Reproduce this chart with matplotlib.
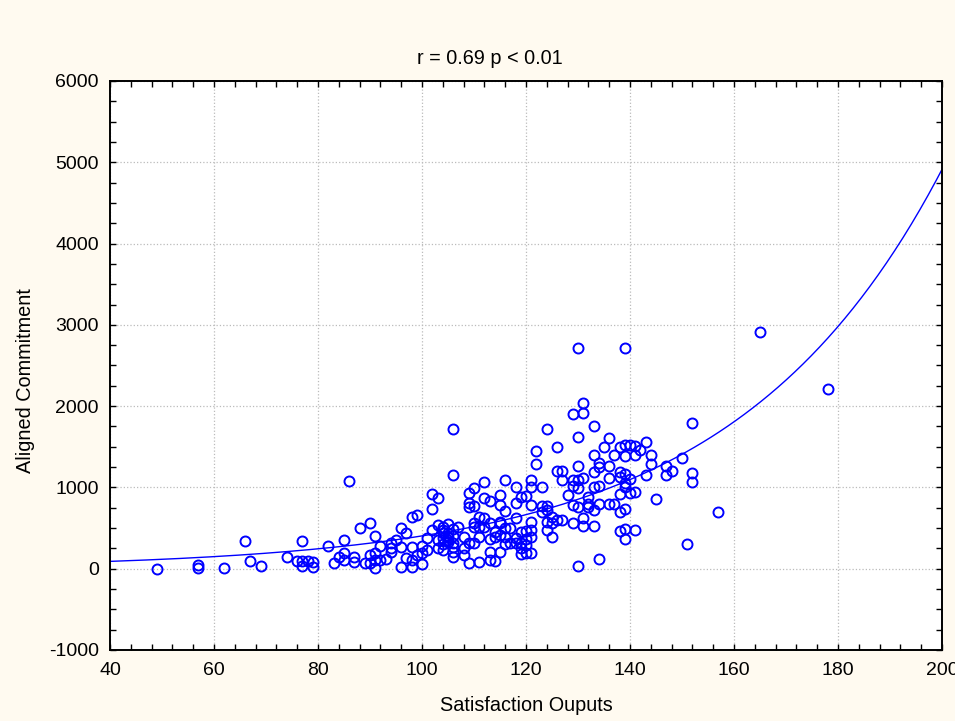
import numpy as np
import matplotlib.pyplot as plt
from matplotlib.ticker import MultipleLocator

plt.rcParams['font.family'] = ['Liberation Sans', 'DejaVu Sans']
plt.rcParams['axes.unicode_minus'] = False

# Satisfaction outputs (x) and aligned commitment (y)
sat = [49, 57, 57, 62, 66, 67, 69, 74, 76, 77, 77, 77, 78, 79, 79, 82, 83, 84,
       85, 85, 85, 86, 87, 87, 88, 89, 90, 90, 90, 91, 91, 91, 91, 92, 92, 93,
       94, 94, 94, 95, 96, 96, 96, 97, 97, 98, 98, 98, 98, 99, 99, 100, 100, 100,
       101, 101, 102, 102, 102, 103, 103, 103, 103,
       104, 104, 104, 104, 104, 104, 105, 105, 105, 105, 105,
       106, 106, 106, 106, 106, 106, 106, 106, 107, 108, 108, 108,
       109, 109, 109, 109, 109, 110, 110, 110, 110, 110, 111, 111, 111, 111,
       112, 112, 112, 112, 113, 113, 113, 113, 113, 114, 114, 114,
       115, 115, 115, 115, 115, 115, 116, 116, 116, 116, 116, 117, 117,
       118, 118, 118, 118, 118, 119, 119, 119, 119, 119,
       120, 120, 120, 120, 120, 121, 121, 121, 121, 121, 121, 121,
       122, 122, 123, 123, 123, 124, 124, 124, 124, 124, 125, 125, 125,
       126, 126, 126, 127, 127, 127, 128, 129, 129, 129, 129, 129,
       130, 130, 130, 130, 130, 130, 130, 131, 131, 131, 131, 131,
       132, 132, 132, 133, 133, 133, 133, 133, 133, 134, 134, 134, 134, 134,
       135, 136, 136, 136, 136, 137, 137, 138, 138, 138, 138, 138, 138,
       139, 139, 139, 139, 139, 139, 139, 139, 139, 140, 140, 140,
       141, 141, 141, 141, 142, 143, 143, 144, 144, 145, 147, 147, 148,
       150, 151, 152, 152, 152, 157, 165, 178]
commit = [0, 50, 5, 10, 340, 100, 30, 140, 90, 340, 30, 90, 100, 80, 15, 285, 65, 150,
          350, 110, 190, 1080, 140, 80, 500, 65, 560, 165, 75, 405, 105, 10, 190, 285, 107, 125,
          250, 210, 312, 353, 505, 270, 25, 435, 135, 630, 270, 107, 20, 660, 168, 280, 60, 190,
          375, 230, 915, 730, 476, 865, 537, 353, 250,
          517, 440, 300, 230, 476, 374, 550, 394, 435, 353, 332,
          1720, 1155, 312, 200, 271, 148, 484, 402, 517, 394, 250, 168,
          935, 763, 312, 74, 812, 989, 771, 558, 312, 517, 640, 394, 82, 517,
          1065, 866, 620, 517, 837, 558, 107, 362, 209, 456, 95, 394,
          907, 784, 558, 210, 420, 578, 1085, 710, 394, 500, 300, 312, 497,
          804, 1000, 380, 312, 620, 880, 456, 180, 250, 320,
          894, 360, 292, 189, 467, 1085, 1009, 578, 476, 394, 189, 784,
          1448, 1288, 697, 1009, 771, 1720, 771, 476, 578, 722, 640, 558, 394,
          1500, 1205, 600, 1205, 1091, 600, 907, 1900, 1091, 1017, 784, 566,
          2710, 1615, 1263, 1091, 989, 763, 33, 2040, 1912, 1112, 620, 525,
          886, 763, 790, 1755, 1395, 1186, 1009, 722, 525, 1304, 1255, 1021, 792, 120,
          1493, 1604, 1263, 1112, 796, 1403, 792, 1501, 1193, 1124, 919, 702, 468,
          2710, 1518, 1386, 1165, 1050, 1009, 734, 484, 362, 1522, 1107, 927,
          1509, 1403, 940, 472, 1460, 1558, 1148, 1398, 1288, 853, 1263, 1148, 1201,
          1366, 300, 1796, 1173, 1066, 702, 2915, 2207]

# exponential fit y = a * exp(b * x)
fit_a, fit_b = 33.1, 0.025

fig = plt.figure(figsize=(9.55, 7.21), dpi=100, facecolor='#FFFAF0')
ax = fig.add_axes([0.1152, 0.0985, 0.8712, 0.7892])
ax.set_facecolor('white')

xs = np.linspace(40, 200, 300)
ax.plot(xs, fit_a * np.exp(fit_b * xs), color='#0000FF', lw=1.0, zorder=2)
ax.plot(sat, commit, 'o', ms=7.2, mfc='none', mec='#0000FF', mew=1.4, zorder=3)

ax.set_xlim(40, 200)
ax.set_ylim(-1000, 6000)
ax.xaxis.set_major_locator(MultipleLocator(20))
ax.xaxis.set_minor_locator(MultipleLocator(4))
ax.yaxis.set_major_locator(MultipleLocator(1000))
ax.yaxis.set_minor_locator(MultipleLocator(250))
ax.grid(True, which='major', color='#BBBBBB', linestyle=':', linewidth=0.9)
ax.tick_params(which='both', direction='in', top=True, right=True, length=4,
               width=1, labelsize=14)
ax.tick_params(axis='y', pad=8)
ax.tick_params(axis='x', pad=9)
for s in ax.spines.values():
    s.set_linewidth(1.4)

fig.text(0.5126, 0.9112, 'r = 0.69 p < 0.01', fontsize=14.3, ha='center', va='baseline')
fig.text(0.5508, 0.0215, 'Satisfaction Ouputs', fontsize=14.3, ha='center', va='center')
fig.text(0.0262, 0.4716, 'Aligned Commitment', fontsize=14.3, ha='center', va='center',
         rotation=90)

fig.savefig('out.png', dpi=100, facecolor=fig.get_facecolor())
